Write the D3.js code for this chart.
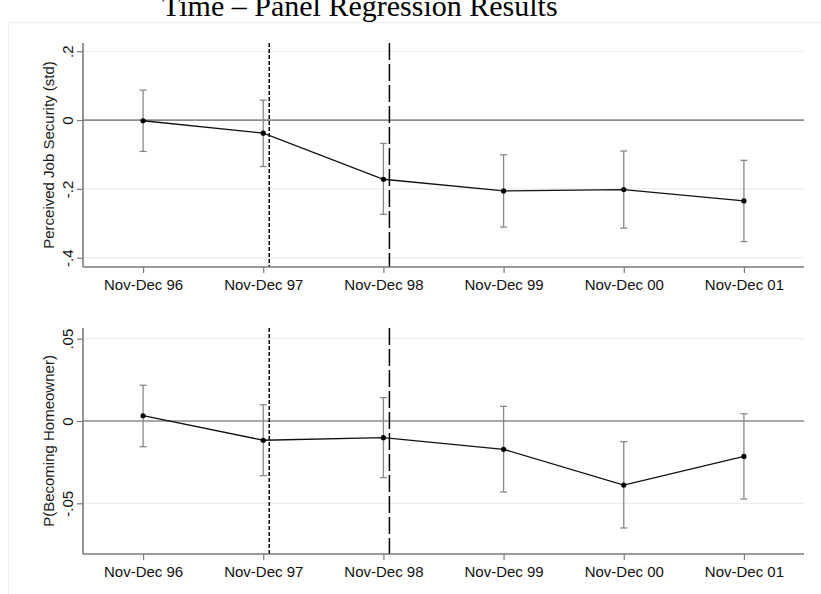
<!DOCTYPE html>
<html>
<head>
<meta charset="utf-8">
<script src="https://cdn.jsdelivr.net/npm/d3@7/dist/d3.min.js"></script>
<style>
  html, body { margin: 0; padding: 0; background: #fff; }
  svg { display: block; }
</style>
</head>
<body>
<svg id="chart" width="821" height="594"></svg>
<script>
// ---------------- data ----------------
const title = "Time \u2013 Panel Regression Results";
const categories = ["Nov-Dec 96", "Nov-Dec 97", "Nov-Dec 98", "Nov-Dec 99", "Nov-Dec 00", "Nov-Dec 01"];

const jobLabel = "Perceived Job Security (std)";
const jobEstimate = [-0.002, -0.038, -0.172, -0.206, -0.202, -0.235];
const jobLower    = [-0.091, -0.135, -0.274, -0.311, -0.314, -0.353];
const jobUpper    = [ 0.087,  0.058, -0.068, -0.101, -0.090, -0.117];
const jobTicks      = [0.2, 0, -0.2, -0.4];
const jobTickLabels = [".2", "0", "-.2", "-.4"];
const jobDomain     = [-0.427, 0.224];

const homeLabel = "P(Becoming Homeowner)";
const homeEstimate = [ 0.0032, -0.0117, -0.0101, -0.0172, -0.0389, -0.0215];
const homeLower    = [-0.0156, -0.0332, -0.0344, -0.0431, -0.0650, -0.0474];
const homeUpper    = [ 0.0217,  0.0099,  0.0142,  0.0089, -0.0126,  0.0044];
const homeTicks      = [0.05, 0, -0.05];
const homeTickLabels = [".05", "0", "-.05"];
const homeDomain     = [-0.0808, 0.0565];

// event markers (position on the category index axis)
const eventPositions = [1.05, 2.05];
const eventDashes = ["4,2", "17,4"];

// ---------------- drawing ----------------
const svg = d3.select("#chart");
const FONT = "'Liberation Sans', Arial, sans-serif";

// outer faint frame
svg.append("rect").attr("x", 8.5).attr("y", 22.5).attr("width", 830).attr("height", 600)
  .attr("fill", "none").attr("stroke", "#ededed").attr("stroke-width", 1);

svg.append("text").attr("x", 162).attr("y", 16)
  .attr("font-family", "'Liberation Serif', 'Times New Roman', serif")
  .attr("font-size", 30).attr("fill", "#000").text(title);

const left = 83, right = 804;
const x = d3.scaleLinear().domain([-0.5, categories.length - 0.5]).range([left, right]);

function panel(cfg) {
  const y = d3.scaleLinear().domain(cfg.domain).range([cfg.bottom, cfg.top]);
  const g = svg.append("g");

  // gridlines
  g.selectAll(".grid").data(cfg.ticks.filter(t => t !== 0)).enter().append("line")
    .attr("x1", left).attr("x2", right)
    .attr("y1", d => y(d)).attr("y2", d => y(d))
    .attr("stroke", "#e6eff1").attr("stroke-width", 1.2);

  // zero line
  g.append("line").attr("x1", left).attr("x2", right)
    .attr("y1", y(0)).attr("y2", y(0))
    .attr("stroke", "#8c8c8c").attr("stroke-width", 1.6);

  // event lines
  g.selectAll(".ev").data(eventPositions).enter().append("line")
    .attr("x1", d => x(d)).attr("x2", d => x(d))
    .attr("y1", cfg.top).attr("y2", cfg.bottom)
    .attr("stroke", "#000").attr("stroke-width", 1.5)
    .attr("stroke-dasharray", (d, i) => eventDashes[i]);

  // y axis
  const yAxis = d3.axisLeft(y).tickValues(cfg.ticks)
    .tickFormat((d, i) => cfg.tickLabels[i]).tickSize(6).tickPadding(4);
  const ya = g.append("g").attr("transform", `translate(${left},0)`).call(yAxis);
  ya.select(".domain").attr("stroke", "#7a7a7a").attr("stroke-width", 1.6)
    .attr("d", `M-0,${cfg.top}V${cfg.bottom}`);
  ya.selectAll(".tick line").attr("stroke", "#7a7a7a").attr("stroke-width", 1.2);
  ya.selectAll(".tick text")
    .attr("font-family", FONT).attr("font-size", 15).attr("fill", "#111")
    .attr("text-anchor", "middle")
    .attr("transform", "rotate(-90)")
    .attr("x", 0).attr("y", -10).attr("dy", 0);

  // x axis
  const xAxis = d3.axisBottom(x).tickValues(d3.range(categories.length))
    .tickFormat(i => categories[i]).tickSize(6).tickPadding(6);
  const xa = g.append("g").attr("transform", `translate(0,${cfg.bottom})`).call(xAxis);
  xa.select(".domain").attr("stroke", "#7a7a7a").attr("stroke-width", 1.6)
    .attr("d", `M${left},0H${right}`);
  xa.selectAll(".tick line").attr("stroke", "#7a7a7a").attr("stroke-width", 1.2);
  xa.selectAll(".tick text").attr("font-family", FONT).attr("font-size", 15).attr("fill", "#111");

  // y title
  g.append("text")
    .attr("transform", `translate(54,${(cfg.top + cfg.bottom) / 2}) rotate(-90)`)
    .attr("text-anchor", "middle").attr("font-family", FONT).attr("font-size", 15)
    .attr("fill", "#1a1a1a").text(cfg.label);

  const idx = d3.range(categories.length);
  // error bars
  g.selectAll(".eb").data(idx).enter().append("line")
    .attr("x1", i => x(i)).attr("x2", i => x(i))
    .attr("y1", i => y(cfg.lower[i])).attr("y2", i => y(cfg.upper[i]))
    .attr("stroke", "#888").attr("stroke-width", 1.3);
  ["lower", "upper"].forEach(k => {
    g.selectAll(".cap" + k).data(idx).enter().append("line")
      .attr("x1", i => x(i) - 3.5).attr("x2", i => x(i) + 3.5)
      .attr("y1", i => y(cfg[k][i])).attr("y2", i => y(cfg[k][i]))
      .attr("stroke", "#888").attr("stroke-width", 1.3);
  });

  // connecting line
  g.append("path").datum(idx)
    .attr("d", d3.line().x(i => x(i)).y(i => y(cfg.est[i])))
    .attr("fill", "none").attr("stroke", "#111").attr("stroke-width", 1.3);

  g.selectAll(".pt").data(idx).enter().append("circle")
    .attr("cx", i => x(i)).attr("cy", i => y(cfg.est[i])).attr("r", 2.6)
    .attr("fill", "#000");
}

panel({ top: 43, bottom: 267, domain: jobDomain, ticks: jobTicks, tickLabels: jobTickLabels,
        label: jobLabel, est: jobEstimate, lower: jobLower, upper: jobUpper });
panel({ top: 328, bottom: 554, domain: homeDomain, ticks: homeTicks, tickLabels: homeTickLabels,
        label: homeLabel, est: homeEstimate, lower: homeLower, upper: homeUpper });
</script>
</body>
</html>
